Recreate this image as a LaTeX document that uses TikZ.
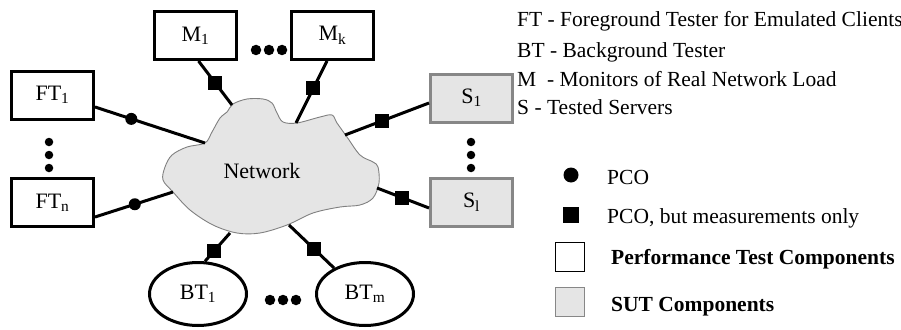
\documentclass[tikz,border=0pt]{standalone}
\usepackage{fontspec}
\setmainfont{Liberation Serif}
\usetikzlibrary{shapes.geometric}
\definecolor{sutfill}{gray}{0.90}
\definecolor{sutedge}{gray}{0.53}
\definecolor{cloudedge}{gray}{0.50}

\begin{document}
\begin{tikzpicture}[x=1pt,y=-1pt,
  every node/.style={font=\fontsize{21.5}{25}\selectfont},
  boxfont/.style={font=\fontsize{22}{26}\selectfont},
  tbox/.style={boxfont, draw=black, line width=3pt, fill=white, minimum width=82pt,
    minimum height=48pt, inner sep=0pt},
  sbox/.style={boxfont, draw=sutedge, fill=sutfill, line width=3pt, minimum width=82pt,
    minimum height=48pt, inner sep=0pt},
  btell/.style={boxfont, ellipse, draw=black, line width=3pt, fill=white,
    minimum width=97pt, minimum height=63pt, inner sep=0pt},
  link/.style={line width=3pt},
  pco/.style={circle, fill=black, inner sep=0pt, minimum size=12pt},
  meas/.style={rectangle, fill=black, inner sep=0pt, minimum size=14pt},
  vdot/.style={circle, fill=black, inner sep=0pt, minimum size=8.5pt},
  hdot/.style={circle, fill=black, inner sep=0pt, minimum size=10.5pt},
  legtext/.style={anchor=base west, inner sep=0pt},
]
\useasboundingbox (0,0) rectangle (901,329);

% the network cloud
\draw[cloudedge, fill=sutfill, line width=0.9pt] plot[smooth cycle, tension=0.55] coordinates {
  (205,143) (187,147) (172,155) (165,167) (163,180) (173,192) (190,210)
  (213,225) (237,233) (260,233) (287,225) (313,213) (340,207) (360,205)
  (373,198) (379,183) (378,167) (373,162) (360,155) (347,137) (337,123)
  (332,115) (320,117) (297,123) (283,122) (277,113) (272,103) (263,99)
  (247,99) (233,104) (227,112) (220,118) (212,132)};
\node[boxfont] (net) at (262,171) {Network};

% attachment points on the cloud border
\coordinate (cF1) at (205,143);
\coordinate (cFn) at (173,192);
\coordinate (cM1) at (232,105);
\coordinate (cMk) at (296,123);
\coordinate (cS1) at (345,135);
\coordinate (cSl) at (377,188);
\coordinate (cB1) at (230,233);
\coordinate (cBm) at (289,225);

% components
\node[tbox] (ft1) at (52.5,95) {FT\textsubscript{1}};
\node[tbox] (ftn) at (52.5,202.5) {FT\textsubscript{n}};
\node[tbox] (m1) at (195.5,35.5) {M\textsubscript{1}};
\node[tbox] (mk) at (332.5,35.5) {M\textsubscript{k}};
\node[sbox] (s1) at (471.5,98) {S\textsubscript{1}};
\node[sbox] (sl) at (471.5,202) {S\textsubscript{l}};
\node[btell] (bt1) at (198,294) {BT\textsubscript{1}};
\node[btell] (btm) at (365,294) {BT\textsubscript{m}};

% ellipsis dots
\node[vdot] (fd1) at (49,142) {};
\node[vdot] (fd2) at (49,155) {};
\node[vdot] (fd3) at (49,168) {};
\node[vdot] (sd1) at (471,142) {};
\node[vdot] (sd2) at (471,155) {};
\node[vdot] (sd3) at (471,168) {};
\node[hdot] (md1) at (256,50) {};
\node[hdot] (md2) at (269,50) {};
\node[hdot] (md3) at (282,50) {};
\node[hdot] (bd1) at (270,300) {};
\node[hdot] (bd2) at (283,300) {};
\node[hdot] (bd3) at (296,300) {};

% connectors with points of control and observation
\draw[link] ([yshift=-12pt]ft1.east) -- node[pco, pos=0.33] {} (cF1);
\draw[link] ([yshift=-14.5pt]ftn.east) -- node[pco, pos=0.51] {} (cFn);
\draw[link] ([xshift=3pt]m1.south) -- node[meas, pos=0.5] {} (cM1);
\draw[link] ([xshift=-5.5pt]mk.south) -- node[meas, pos=0.44] {} (cMk);
\draw[link] (cS1) -- node[meas, pos=0.44] {} ([yshift=-5pt]s1.west);
\draw[link] (cSl) -- node[meas, pos=0.48] {} ([yshift=-6pt]sl.west);
\draw[link] (cB1) -- node[meas, pos=0.63] {} (bt1.78);
\draw[link] (cBm) -- node[meas, pos=0.55] {} (btm.140);

% key
\node[legtext] (k1) at (517,27) {FT - Foreground Tester for Emulated Clients};
\node[legtext] (k2) at (517,57) {BT - Background Tester};
\node[legtext] (k3) at (517,86) {M~ - Monitors of Real Network Load};
\node[legtext] (k4) at (517,114) {S - Tested Servers};

\node[circle, fill=black, inner sep=0pt, minimum size=15pt] (lp) at (571,175) {};
\node[legtext] (lpt) at (607,184) {PCO};
\node[rectangle, fill=black, inner sep=0pt, minimum size=16pt] (lm) at (571,215) {};
\node[legtext] (lmt) at (607,223) {PCO, but measurements only};
\node[rectangle, draw=black, fill=white, line width=1pt, inner sep=0pt, minimum size=29pt] (lw) at (570,257) {};
\node[legtext] (lwt) at (611,264) {\bfseries Performance Test Components};
\node[rectangle, draw=sutedge, fill=sutfill, line width=1pt, inner sep=0pt, minimum size=29pt] (lg) at (570,302) {};
\node[legtext] (lgt) at (611,311) {\bfseries SUT Components};
\end{tikzpicture}
\end{document}
